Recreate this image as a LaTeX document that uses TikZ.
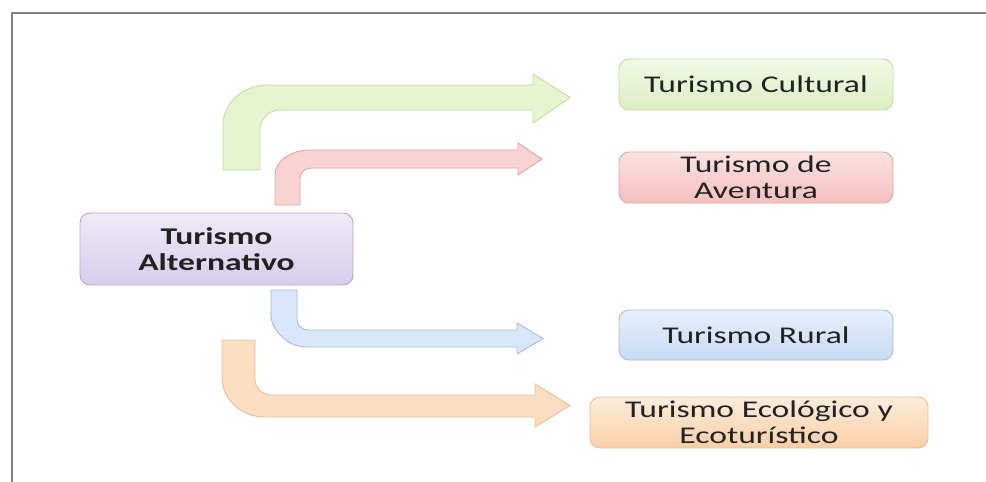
\documentclass[tikz,border=0pt]{standalone}
\usepackage{fontspec}
\setmainfont{Carlito}[FakeStretch=1.4]
\definecolor{txt}{HTML}{222222}
\definecolor{frame}{HTML}{808080}
\definecolor{gA}{HTML}{E6F4CF}\definecolor{gB}{HTML}{C5DDA2}
\definecolor{rA}{HTML}{F9D2D2}\definecolor{rB}{HTML}{E3A5A5}
\definecolor{bA}{HTML}{DAE6FA}\definecolor{bB}{HTML}{A6BCDF}
\definecolor{oA}{HTML}{FCDFC3}\definecolor{oB}{HTML}{EDBE93}
\definecolor{gT}{HTML}{F2F9E6}\definecolor{gD}{HTML}{DCEEC2}
\definecolor{rT}{HTML}{FCE2E2}\definecolor{rD}{HTML}{F4BFBF}
\definecolor{bT}{HTML}{E8F0FC}\definecolor{bD}{HTML}{C8DAF4}
\definecolor{oT}{HTML}{FDEDDC}\definecolor{oD}{HTML}{F9CFA6}
\definecolor{pT}{HTML}{F0EAF8}\definecolor{pD}{HTML}{D8CCEC}\definecolor{pB}{HTML}{BAA5D8}
\tikzset{
  box/.style={rectangle, rounded corners=10pt, line width=0.9pt, text=txt, align=center,
    font=\fontsize{24}{26}\selectfont, inner sep=0pt},
  arrowshape/.style={line width=0.9pt, line join=miter}
}
\begin{document}
\begin{tikzpicture}[x=1pt,y=-1pt]
\useasboundingbox (0,0) rectangle (986,482);
\fill[white] (0,0) rectangle (986,482);
\draw[frame, line width=2pt] (986,13) -- (12,13) -- (12,482);

% nodes
\node[box, draw=pB, top color=pT, bottom color=pD, minimum width=273pt, minimum height=72pt,
  font=\fontsize{24}{26}\selectfont\bfseries] (alt) at (216.5,249) {Turismo\\Alternativo};
\node[box, draw=gB, top color=gT, bottom color=gD, minimum width=274pt, minimum height=51pt] (cul) at (756,84.5) {Turismo Cultural};
\node[box, draw=rB, top color=rT, bottom color=rD, minimum width=274pt, minimum height=51pt] (ave) at (756,177.5) {Turismo de\\Aventura};
\node[box, draw=bB, top color=bT, bottom color=bD, minimum width=274pt, minimum height=50pt] (rur) at (756,335) {Turismo Rural};
\node[box, draw=oB, top color=oT, bottom color=oD, minimum width=338pt, minimum height=51pt] (eco) at (759,422.5) {Turismo Ecológico y\\Ecoturístico};

% green arrow
\draw[arrowshape, draw=gB, fill=gA] (223,170) -- (223,125) .. controls (223,103) and (243,85) .. (268,85)
  -- (533,85) -- (533,74) -- (570,97.5) -- (533,123) -- (533,110) -- (280,110)
  .. controls (269,110) and (260,119) .. (260,130) -- (260,170) -- cycle;
% red arrow
\draw[arrowshape, draw=rB, fill=rA] (275,205) -- (275,175) .. controls (275,161) and (291,150) .. (310,150)
  -- (518,150) -- (518,143) -- (542,159) -- (518,175) -- (518,168) -- (312,168)
  .. controls (305,168) and (300,172.5) .. (300,178) -- (300,205) -- cycle;
% blue arrow
\draw[arrowshape, draw=bB, fill=bA] (271,290) -- (271,315) .. controls (271,329) and (287,347) .. (306,347)
  -- (517,347) -- (517,354) -- (543,338.5) -- (517,323) -- (517,330) -- (308,330)
  .. controls (302,330) and (297,325.5) .. (297,320) -- (297,290) -- cycle;
% orange arrow
\draw[arrowshape, draw=oB, fill=oA] (222,340) -- (222,377) .. controls (222,399) and (241,417) .. (265,417)
  -- (535,417) -- (535,427) -- (570,405.5) -- (535,384) -- (535,395) -- (272,395)
  .. controls (262.6,395) and (255,388) .. (255,380) -- (255,340) -- cycle;
\end{tikzpicture}
\end{document}
